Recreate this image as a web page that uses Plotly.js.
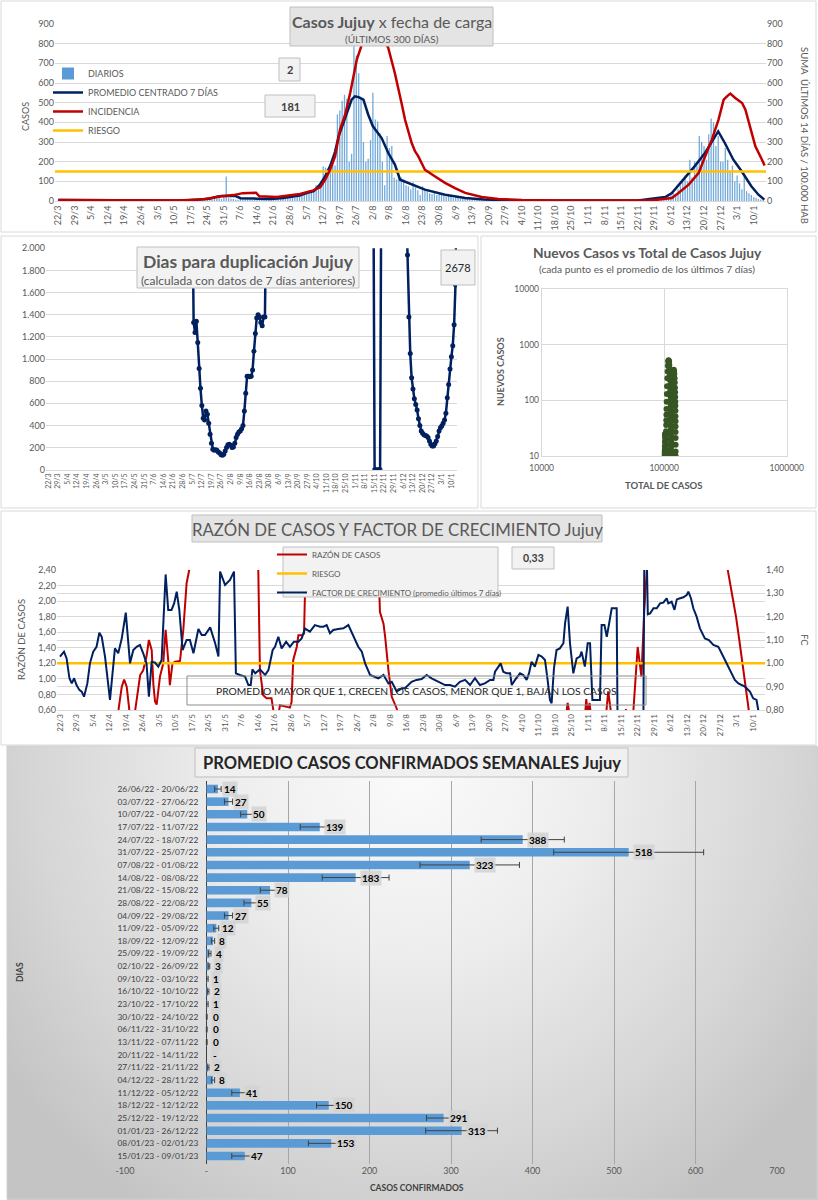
<!DOCTYPE html>
<html><head><meta charset="utf-8">
<script src="https://cdn.plot.ly/plotly-3.0.1.min.js"></script>
<style>
html,body{margin:0;padding:0;background:#fff;}
#wrap{position:relative;width:818px;height:1200px;overflow:hidden;}
#bg5{position:absolute;left:7px;top:746px;width:811px;height:454px;
 background:radial-gradient(ellipse 62% 115% at 50% 4%, #FBFBFB 0%, #EEEEEE 35%, #D6D6D6 75%, #C4C4C4 100%);}
#chart{position:absolute;left:0;top:0;width:818px;height:1200px;}
</style></head><body><div id="wrap"><div id="bg5"></div><div id="chart"></div></div>
<script>
// ---------- DATA ----------
const dateLabels = ["22/3","29/3","5/4","12/4","19/4","26/4","3/5","10/5","17/5","24/5","31/5","7/6","14/6","21/6","28/6","5/7","12/7","19/7","26/7","2/8","9/8","16/8","23/8","30/8","6/9","13/9","20/9","27/9","4/10","11/10","18/10","25/10","1/11","8/11","15/11","22/11","29/11","6/12","13/12","20/12","27/12","3/1","10/1"];

// daily cases (day 0 = 22/3)
const diarios = [
3,2,4,5,3,2,1, 2,1,3,2,1,0,1, 1,2,1,0,2,1,0, 1,0,1,2,0,1,0, 1,1,0,2,1,0,1, 0,1,1,0,2,1,0,
1,0,2,1,1,0,2, 2,3,1,2,4,3,1, 3,2,5,4,6,8,4, 10,12,8,15,20,18,10, 30,125,15,12,10,8,6,
12,15,10,14,12,8,10, 15,12,8,10,14,9,11, 14,18,12,16,20,15,18, 22,25,18,30,28,35,38,
45,55,50,60,80,70,100, 175,170,140,190,200,180,440, 460,510,540,520,200,240,790,
740,650,520,300,200,215,310, 550,415,405,345,200,80,330, 270,280,120,110,130,120,110,
80,75,60,95,70,55,30, 75,60,50,40,35,45,30, 35,30,25,20,28,22,15, 18,15,12,10,14,12,8,
10,8,6,7,5,6,4, 5,4,3,4,2,3,2, 3,2,2,1,2,1,1, 2,1,1,0,1,1,0, 1,0,1,1,0,0,1, 0,1,0,0,1,0,0,
1,0,0,1,0,0,0, 0,1,0,0,0,1,0, 0,0,1,0,0,0,0, 0,0,0,1,0,0,1, 2,3,2,4,3,5,4,
8,10,12,15,20,18,25, 30,40,35,60,80,100,130, 100,210,120,200,180,330,300,
280,210,340,420,400,280,330, 200,200,270,210,150,180,100, 130,90,60,130,50,40,30, 20,15,10,8,5];

const promDias = [0,14,20,45,55,60,64,67,69,75,77,84,90,95,98,102,105,108,110.6,112.8,115,117,118.5,121,124,125.4,127,129,131,133,136.7,139.5,142.3,144.5,148,151,155,163.5,172,180,190,200,245,248,256.6,259.4,265,269,273.4,277.7,279,281.8,285.4,288.9,293,296,298.5];
const promVals = [5,4,2,2,4,8,12,22,25,25,14,12,10,15,20,28,40,50,83,125,180,250,329,413,515,532,528,515,440,380,320,244,185,108,92,75,58,32,15,7,4,3,3,7,20,40,117,176,244,329,354,295,210,151,75,32,7];

const incDias = [0,13,15,48,50,60,62,66,69,74,78,83.6,85,92.4,98,102.2,107.8,110.7,112.8,114.9,117,119.1,121.3,123.4,126.2,129,131,133,135,137.5,139.5,142.3,145.1,146.6,149.4,150.8,152.2,155,159.3,163.5,167.7,172,179,186,196,210,250,253.8,259.4,262.2,266.5,270.7,273.5,276.3,279.1,281.3,282.7,284.1,286.2,289.1,290.5,293.3,294.7,297.5,298.6];
const incVals = [5,5,2,2,3,8,10,18,24,30,40,42,24,20,29,36,54,70,108,159,227,363,440,549,719,820,860,870,860,830,778,650,498,413,295,253,227,159,125,92,66,41,20,10,5,2,2,7,15,41,83,142,227,312,413,515,532,546,524,498,464,346,278,210,181];
const riesgoCasos = 150;

const dupDias = [105,106,107,108,109,110,111,112,113,114,115,116,117,118,119,120,121,122,123,124,125,126,127,128,129,130,131,132,133,134,135,136,137,138,139,140,141,142,143,144,145,146,147,148,149,150,151,152,153,154,155,156,157,158,159,
237,238,239,240,241,242,243,
261,262,263,264,265,266,267,268,269,270,271,272,273,274,275,276,277,278,279,280,281,282,283,284,285,286,287,288,289,290,291,292,293,294,295,296,297,298];
const dupVals = [2600,1330,1240,1340,1150,915,735,580,465,450,530,500,420,320,240,185,175,180,175,160,150,135,130,140,170,200,225,230,220,200,205,240,290,320,340,350,370,400,530,690,845,845,840,845,900,1070,1230,1370,1400,1380,1330,1300,1380,1380,2400,
3000,0,0,0,0,0,3000,
2600,1940,1380,1050,830,730,640,590,540,460,400,350,330,315,310,305,290,260,230,215,215,235,260,300,350,380,395,420,450,510,650,770,910,1020,1120,1310,1670,2678];

const totalCasos = [100900,101000,101100,101200,101300,101450,101600,101800,102000,102200,102350,102450,102550,102650,102750,102850,102950,103050,103150,103300,103450,103600,103800,104000,104200,104450,104750,105100,105500,106000,106600,107200,107800,108400,109000,109600,110100,110500,110900,111200,111500,111750,112000,112200,112400,112550,112700,112850,113000,113100,113200,113300,113400,113450,113500,113550,113600,113650,113700,
114000,114050,114100,114150,114250,114400,114550,114750,115000,115300,115700,116200,116800,117500,118200,119000,119700,120400,121000,121600,122000,122400,122700,122950,123150,123300,123450,123550,123650,123720,123780,123830,123870,123900,123920];
const nuevosCasos = [10,11,12,13,15,18,22,25,25,24,20,16,13,12,11,12,13,15,17,20,24,28,36,44,55,70,95,130,180,250,330,420,500,530,520,500,440,380,330,280,230,185,150,120,100,90,78,68,58,50,42,35,30,25,20,16,13,11,10,
10,12,15,18,22,28,35,45,60,80,105,140,180,230,280,330,355,340,300,250,210,170,140,115,95,80,65,52,42,34,27,21,16,12,10];

const razonDias = [22,24.8,26.2,27.2,28.3,29.4,30.4,31.5,31.9,34,35.3,36.7,37.7,38.9,39.6,40.3,41,42.4,43.8,44.8,45.9,46.6,47.7,48.8,50.9,52.3,53.7,54.8,56,83.5,84.1,84.8,86.2,87.6,89.7,90.2,91,92.4,93.3,96.2,97.5,98.2,98.9,100.4,101.1,102.5,103.5,103.9,104.6,105.5,134.5,135,135.7,137.2,137.9,139.3,140.7,142.8,143.5,
214.5,215,215.3,215.8,216.3,222.6,223.2,223.8,224.6,225.3,231.5,232.5,233.2,234,239.5,240,240.5,242.5,243.2,245,246.6,247.8,248.9,249.5,282.5,283.2,285.3,286.7,288.1,289.6,291,292.3,293];
const razonVals = [0.3,0.6,0.9,0.99,0.9,0.6,0.5,0.5,0.6,1.05,1.11,1.29,1.5,1.37,0.93,0.71,0.67,1.03,1.2,1.63,1.24,0.92,1.2,1.22,1.23,1.63,2.23,2.4,3,3,2.4,1.11,0.79,0.75,0.75,0.6,0.5,0.5,0.66,0.64,0.63,0.7,1.24,1.41,1.56,1.56,1.58,2.1,2.4,3,3,2.4,1.86,1.71,1.54,1.11,0.77,0.62,0.5,
0.5,0.6,0.69,0.6,0.5,0.5,0.74,0.55,0.69,0.5,0.5,0.84,0.72,0.5,0.5,0.61,0.5,0.5,0.6,1.41,1.03,1.89,2.4,3,3,2.4,2.04,1.8,1.5,1.2,0.9,0.6,0.4];
const riesgoRazon = 1.2;

const fcDias = [0,1.7,2.8,4,5,6,7,8.2,9.2,10.2,11.6,12.7,14.1,15.5,16.7,17.7,19.1,21.2,23.3,24.7,26.2,27.9,29.7,31.1,32.5,33.9,35.3,36.7,37.7,38.9,40.3,41.7,43.1,44.8,45.9,47.3,48.4,49.5,50.6,52,53.7,55.1,56.6,58.7,60.1,61.5,63.7,65.8,67.2,67.9,70,72.1,73.8,74.6,76.3,78.5,79.9,80.9,81.6,82.8,84.8,87,88.4,90.2,91.2,92.6,94,95.9,97.5,99.2,101.1,102.5,103.9,106,108.1,110.3,111.7,113.1,114.5,115.9,118,120.2,122.3,124.4,126.5,128,129.4,131.5,133.6,135,137.2,139.3,140.7,142.8,144.9,146.3,149.1,151.2,153.4,155.5,157.6,160.5,163.3,165.4,167.5,169.6,171.8,173.9,176,178.1,180.2,182.4,183.8,184.5,185.9,186.9,188,189.4,190.9,191.6,193,195.1,196.5,197.9,198.9,200,201.4,202.9,204.3,205.7,206.8,207.8,208.5,209.5,210.6,212,213.5,214.2,215.3,216.3,217.7,219.1,220.5,221.2,222.6,223.8,224.8,225.8,229,229.7,230.9,231.9,232.9,234,236.1,236.5,247.4,247.9,248.6,249.3,250.3,251.7,253.1,254.5,255.9,257.3,258,259.4,260.6,261.6,263,264.4,265.8,266.5,267.6,268.6,270,271.4,273.5,275.2,277.1,279.2,280.6,282,284.1,286.2,287.7,290.5,292.6,294,295.4,296.4,297];
const fcVals = [1.029,1.05,1.021,0.936,0.914,0.936,0.907,0.886,0.879,0.857,0.914,1.0,1.05,1.071,1.131,1.114,1.029,0.843,1.064,1.043,1.107,1.217,1.0,1.057,1.071,1.079,1.043,1.0,0.857,1.007,1.003,0.986,1.014,1.381,1.229,1.229,1.257,1.307,1.229,1.057,1.1,1.1,1.043,1.147,1.121,1.121,1.154,1.086,1.029,1.393,1.336,1.357,1.393,0.957,0.95,0.943,0.907,0.907,0.974,0.957,0.974,0.95,0.971,1.057,1.071,1.114,1.064,1.093,1.071,1.093,1.093,1.107,1.149,1.136,1.164,1.157,1.157,1.164,1.129,1.143,1.147,1.15,1.164,1.114,1.071,1.05,1.0,0.95,0.943,0.936,0.95,0.914,0.921,0.879,0.893,0.893,0.921,0.929,0.933,0.95,0.936,0.921,0.907,0.907,0.9,0.921,0.929,0.907,0.936,0.907,0.914,0.929,0.929,0.964,0.986,1.0,0.964,0.957,0.957,0.907,0.929,0.957,0.95,0.929,0.957,1.007,0.986,1.036,1.029,1.014,0.929,0.843,0.829,0.979,1.057,1.064,1.086,1.171,1.243,1.086,0.957,1.021,1.029,1.05,0.986,1.086,1.086,0.843,0.843,1.164,1.164,1.114,1.171,1.236,1.236,0.7,0.7,1.6,1.6,1.21,1.214,1.236,1.236,1.257,1.26,1.279,1.257,1.264,1.229,1.274,1.279,1.283,1.293,1.307,1.279,1.236,1.2,1.15,1.107,1.1,1.079,1.071,1.043,1.014,0.971,0.929,0.914,0.9,0.879,0.85,0.843,0.8,0.75];

const semanas = ["26/06/22 - 20/06/22","03/07/22 - 27/06/22","10/07/22 - 04/07/22","17/07/22 - 11/07/22","24/07/22 - 18/07/22","31/07/22 - 25/07/22","07/08/22 - 01/08/22","14/08/22 - 08/08/22","21/08/22 - 15/08/22","28/08/22 - 22/08/22","04/09/22 - 29/08/22","11/09/22 - 05/09/22","18/09/22 - 12/09/22","25/09/22 - 19/09/22","02/10/22 - 26/09/22","09/10/22 - 03/10/22","16/10/22 - 10/10/22","23/10/22 - 17/10/22","30/10/22 - 24/10/22","06/11/22 - 31/10/22","13/11/22 - 07/11/22","20/11/22 - 14/11/22","27/11/22 - 21/11/22","04/12/22 - 28/11/22","11/12/22 - 05/12/22","18/12/22 - 12/12/22","25/12/22 - 19/12/22","01/01/23 - 26/12/22","08/01/23 - 02/01/23","15/01/23 - 09/01/23"];
const promSemanal = [14,27,50,139,388,518,323,183,78,55,27,12,8,4,3,1,2,1,0.3,0.3,0.3,0,2,8,41,150,291,313,153,47];
const errSemanal = [4,5,8,24,51,92,61,41,12,9,5,3,2,1.5,1,1,1,1,0.5,0.5,0.5,0,1,2,10,15,21,44,28,16];
const etiqSemanal = ["14","27","50","139","388","518","323","183","78","55","27","12","8","4","3","1","2","1","0","0","0","-","2","8","41","150","291","313","153","47"];
const ticksSemanal = [-100,0,100,200,300,400,500,600,700];
const ticksSemanalTxt = ["-100","-","100","200","300","400","500","600","700"];

// ---------- HELPERS ----------
const W = 818, H = 1200;
const X = p => p / W;
const Y = p => 1 - p / H;
const FONT = "Lato, 'Open Sans', sans-serif";
const GREY = '#595959';
const NAVY = '#002060', RED = '#C00000', YEL = '#FFC000';
const weekTicks = dateLabels.map((d, i) => i * 7);
const dayIdx = diarios.map((v, i) => i);

const traces = [
  // Panel 1
  {type:'bar', x:dayIdx, y:diarios, width:0.55, xaxis:'x', yaxis:'y', name:'DIARIOS', marker:{color:'#5B9BD5', opacity:0.85}, legend:'legend'},
  {type:'scatter', mode:'lines', x:promDias, y:promVals, xaxis:'x', yaxis:'y', name:'PROMEDIO CENTRADO 7 DÍAS', line:{color:NAVY, width:2.5}, legend:'legend'},
  {type:'scatter', mode:'lines', x:incDias, y:incVals, xaxis:'x', yaxis:'y2', name:'INCIDENCIA', line:{color:RED, width:2.5}, legend:'legend'},
  {type:'scatter', mode:'lines', x:[-1.4, 299.2], y:[riesgoCasos, riesgoCasos], xaxis:'x', yaxis:'y', name:'RIESGO', line:{color:YEL, width:2.5}, legend:'legend'},
  // Panel 2
  {type:'scatter', mode:'lines+markers', x:dupDias, y:dupVals, xaxis:'x2', yaxis:'y3', showlegend:false, line:{color:NAVY, width:2.5}, marker:{color:NAVY, size:5}},
  // Panel 3
  {type:'scatter', mode:'markers', x:totalCasos, y:nuevosCasos, xaxis:'x3', yaxis:'y4', showlegend:false, marker:{color:'#375623', size:6}},
  // Panel 4
  {type:'scatter', mode:'lines', x:razonDias, y:razonVals, xaxis:'x4', yaxis:'y5', name:'RAZÓN DE CASOS', line:{color:RED, width:2}, legend:'legend2'},
  {type:'scatter', mode:'lines', x:[-1.27, 299], y:[riesgoRazon, riesgoRazon], xaxis:'x4', yaxis:'y5', name:'RIESGO', line:{color:YEL, width:2.5}, legend:'legend2'},
  {type:'scatter', mode:'lines', x:fcDias, y:fcVals, xaxis:'x4', yaxis:'y6', name:'FACTOR DE CRECIMIENTO (promedio últimos 7 días)', line:{color:NAVY, width:2}, legend:'legend2'},
  // Panel 5
  {type:'bar', orientation:'h', x:promSemanal, y:semanas, width:0.68, xaxis:'x5', yaxis:'y7', showlegend:false,
   marker:{color:'#5B9BD5'}, error_x:{type:'data', array:errSemanal, color:'#404040', thickness:1, width:3}}
];

const tickF = s => ({family:FONT, size:s, color:GREY});

const layout = {
  width:W, height:H, margin:{l:0,r:0,t:0,b:0},
  paper_bgcolor:'rgba(0,0,0,0)', plot_bgcolor:'rgba(0,0,0,0)',
  font:{family:FONT, color:GREY}, separators:',.',
  xaxis:{domain:[X(55),X(766)], range:[-1.4,299.2], anchor:'y', tickvals:weekTicks, ticktext:dateLabels, tickangle:-90, tickfont:tickF(9), showgrid:false, zeroline:false, showline:true, linecolor:'#D9D9D9', ticks:''},
  yaxis:{domain:[Y(201),Y(24)], range:[0,900], dtick:100, anchor:'x', gridcolor:'#D9D9D9', zeroline:false, tickfont:tickF(9), ticks:''},
  yaxis2:{overlaying:'y', side:'right', anchor:'x', range:[0,900], dtick:100, showgrid:false, zeroline:false, tickfont:tickF(9), ticks:''},

  xaxis2:{domain:[X(46),X(457)], range:[-1.68,298.1], anchor:'y3', tickvals:weekTicks, ticktext:dateLabels, tickangle:-90, tickfont:tickF(7), showgrid:false, zeroline:false, showline:true, linecolor:'#D9D9D9', ticks:''},
  yaxis3:{domain:[Y(469.7),Y(248.3)], range:[0,2000], dtick:200, tickformat:',d', anchor:'x2', gridcolor:'#D9D9D9', zeroline:false, tickfont:tickF(9), ticks:''},

  xaxis3:{type:'log', domain:[X(541.7),X(786.7)], range:[4,6], anchor:'y4', tickvals:[1e4,1e5,1e6], ticktext:['10000','100000','1000000'], tickfont:tickF(8.5), gridcolor:'#D9D9D9', showline:true, mirror:true, linecolor:'#D9D9D9', zeroline:false, ticks:'outside', ticklen:4, tickcolor:'rgba(0,0,0,0)'},
  yaxis4:{type:'log', domain:[Y(456),Y(289.3)], range:[1,4], anchor:'x3', tickvals:[10,100,1000,10000], ticktext:['10','100','1000','10000'], tickfont:tickF(8.5), gridcolor:'#D9D9D9', showline:true, mirror:true, linecolor:'#D9D9D9', zeroline:false, ticks:''},

  xaxis4:{domain:[X(57),X(765)], range:[-1.27,299], anchor:'y5', tickvals:weekTicks, ticktext:dateLabels, tickangle:-90, tickfont:tickF(8), showgrid:false, zeroline:false, showline:true, linecolor:'#D9D9D9', ticks:''},
  yaxis5:{domain:[Y(710),Y(570)], range:[0.6,2.4], dtick:0.2, tickformat:'.2f', anchor:'x4', gridcolor:'#D9D9D9', zeroline:false, tickfont:tickF(9), ticks:''},
  yaxis6:{overlaying:'y5', side:'right', anchor:'x4', range:[0.8,1.4], dtick:0.1, tickformat:'.2f', gridcolor:'#D9D9D9', zeroline:false, tickfont:tickF(9), ticks:''},

  xaxis5:{domain:[X(125),X(777)], range:[-100,700], anchor:'y7', tickvals:ticksSemanal, ticktext:ticksSemanalTxt, tickfont:tickF(9), gridcolor:'#A6A6A6', zeroline:true, zerolinecolor:'#404040', zerolinewidth:1.5, ticks:''},
  yaxis7:{domain:[Y(1164),Y(781)], type:'category', categoryorder:'array', categoryarray:semanas, autorange:'reversed', anchor:'free', position:X(205), tickfont:{family:FONT, size:8.4, color:'#404040'}, showgrid:false, ticks:'outside', ticklen:5, tickcolor:'rgba(0,0,0,0)'},

  legend:{x:X(48), y:Y(59), xanchor:'left', yanchor:'top', bgcolor:'rgba(0,0,0,0)', font:{family:FONT, size:9, color:GREY}, itemwidth:30, traceorder:'normal', tracegroupgap:0},
  legend2:{x:X(272), y:Y(540), xanchor:'left', yanchor:'top', bgcolor:'rgba(0,0,0,0)', font:{family:FONT, size:8, color:GREY}, itemwidth:30, traceorder:'normal'},
  shapes:[], annotations:[]
};

const S = layout.shapes, A = layout.annotations;
function box(x0,y0,x1,y1,fill,line,layer){ S.push({type:'rect', xref:'paper', yref:'paper', x0:X(x0), x1:X(x1), y0:Y(y0), y1:Y(y1), fillcolor:fill, line:{color:line, width:1}, layer:layer||'above'}); }
function txt(x,y,t,size,color,opts){ A.push(Object.assign({xref:'paper', yref:'paper', x:X(x), y:Y(y), text:t, showarrow:false, xanchor:'center', yanchor:'middle', font:{family:FONT, size:size, color:color||GREY}}, opts||{})); }

// panel borders
box(1,1,816,232,'rgba(0,0,0,0)','#D9D9D9','below');
box(1,236,478,508,'rgba(0,0,0,0)','#D9D9D9','below');
box(481,236,816,508,'rgba(0,0,0,0)','#D9D9D9','below');
box(1,511,816,745,'rgba(0,0,0,0)','#D9D9D9','below');
box(7,746,817,1199,'rgba(0,0,0,0)','#D0D0D0','below');

// Panel 1
box(290,7,493,46,'#E4E4E4','#BFBFBF');
txt(391.5,21.5,'<b>Casos Jujuy</b> x fecha de carga',16,GREY);
txt(391.5,39,'(ÚLTIMOS 300 DÍAS)',10,GREY);
box(279,58,300,81,'#F2F2F2','#BFBFBF');
txt(289.5,69.5,'<b>2</b>',11,'#404040');
box(265,95,315,117,'#F2F2F2','#BFBFBF');
txt(290,106,'<b>181</b>',11,'#404040');
txt(25,117,'CASOS',9,GREY,{textangle:-90});
txt(805,135,'SUMA  ÚLTIMOS 14 DÍAS / 100.000 HAB',9.5,GREY,{textangle:90});

// Panel 2
box(137,247,359,288,'#F2F2F2','#BFBFBF');
txt(248,261,'<b>Dias para duplicación Jujuy</b>',17.5,GREY);
txt(248,280.5,'(calculada con datos de 7 días anteriores)',12,GREY);
box(441,250,475,285,'#F2F2F2','#BFBFBF');
txt(458,267.5,'2678',11,'#262626');

// Panel 3
txt(647,253,'<b>Nuevos Casos vs Total de Casos Jujuy</b>',13.8,GREY);
txt(647,268.5,'(cada punto es el promedio de los últimos 7 días)',10.2,GREY);
txt(500,372,'<b>NUEVOS CASOS</b>',9,GREY,{textangle:-90});
txt(663,485,'<b>TOTAL DE CASOS</b>',9.5,GREY);

// Panel 4
box(192,515,602,542,'#E4E4E4','#BFBFBF');
txt(397,529,'RAZÓN DE CASOS Y FACTOR DE CRECIMIENTO Jujuy',16.8,GREY);
box(283,547,498,597,'#F2F2F2','#BFBFBF');
box(512,547,554,569,'#F2F2F2','#BFBFBF');
txt(533,558,'<b>0,33</b>',10.5,'#404040');
box(187,676,646,705,'rgba(0,0,0,0)','#8C8C8C');
txt(416,691,'PROMEDIO MAYOR QUE 1, CRECEN LOS CASOS, MENOR QUE 1, BAJAN LOS CASOS',10.3,'#262626');
txt(21,640,'RAZÓN DE CASOS',9.5,GREY,{textangle:-90});
txt(805,640,'FC',9.5,GREY,{textangle:90});

// Panel 5
box(195,748,628,777,'#F0F0F0','#BFBFBF');
txt(411.5,763,'<b>PROMEDIO CASOS CONFIRMADOS SEMANALES Jujuy</b>',16.5,'#262626');
txt(417,1188,'<b>CASOS CONFIRMADOS</b>',8.5,'#404040');
txt(20,972,'<b>DIAS</b>',8.5,'#404040',{textangle:-90});
semanas.forEach((s,i)=>{
  A.push({xref:'x5', yref:'y7', x:promSemanal[i], y:s, text:'<b>'+etiqSemanal[i]+'</b>', showarrow:false, xanchor:'left', yanchor:'middle', xshift:4,
    font:{family:FONT, size:10, color:'#000'}, bgcolor:'rgba(210,210,210,0.85)', borderpad:1});
});

Plotly.newPlot('chart', traces, layout, {displayModeBar:false, staticPlot:true});
</script></body></html>
